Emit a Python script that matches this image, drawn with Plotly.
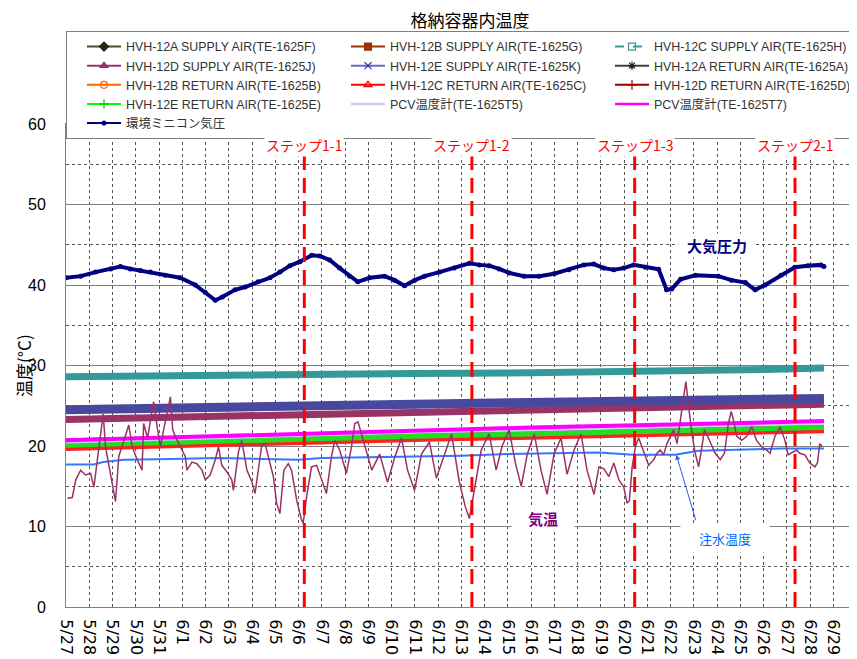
import pandas as pd
import plotly.graph_objects as go

START = pd.Timestamp("2012-05-27")
RANGE_END = pd.Timestamp("2012-06-30 00:30")

# ---- HVH / PCV temperatures (days from 5/27 00:00) ----
hvh_days = [0, 5, 10, 15, 20, 25, 30, 32.6]
te_1625f = [20.3, 20.7, 21.1, 21.4, 21.7, 22.0, 22.3, 22.4]   # HVH-12A SUPPLY
te_1625g = [19.9, 20.3, 20.7, 21.0, 21.3, 21.6, 21.9, 22.0]   # HVH-12B SUPPLY
te_1625h = [28.6, 28.8, 28.9, 29.0, 29.1, 29.2, 29.5, 29.7]   # HVH-12C SUPPLY
te_1625j = [23.3, 23.6, 23.9, 24.1, 24.4, 24.7, 25.0, 25.2]   # HVH-12D SUPPLY
te_1625k = [24.5, 24.8, 25.0, 25.2, 25.4, 25.6, 25.8, 25.9]   # HVH-12E SUPPLY
te_1625a = [20.7, 21.0, 21.3, 21.6, 21.9, 22.1, 22.4, 22.6]   # HVH-12A RETURN
te_1625b = [19.9, 20.3, 20.7, 21.0, 21.3, 21.6, 21.9, 22.0]   # HVH-12B RETURN
te_1625c = [19.7, 20.1, 20.5, 20.8, 21.1, 21.4, 21.7, 21.9]   # HVH-12C RETURN
te_1625d = [20.2, 20.6, 21.0, 21.3, 21.6, 21.9, 22.2, 22.3]   # HVH-12D RETURN
te_1625e = [20.1, 20.5, 20.9, 21.2, 21.5, 21.8, 22.1, 22.3]   # HVH-12E RETURN
te_1625t5 = [20.5, 20.9, 21.3, 21.7, 22.0, 22.3, 22.6, 22.8]  # PCV T5
te_1625t7 = [20.7, 21.1, 21.6, 22.0, 22.3, 22.6, 22.9, 23.1]  # PCV T7

# ---- 環境ミニコン気圧 ----
press_days = [0, 0.63, 1.27, 1.92, 2.34, 2.77, 3.2, 3.63, 4.27, 4.91, 5.56, 5.99, 6.42, 6.72,
              7.27, 7.7, 8.26, 8.77, 9.2, 9.63, 10.06, 10.57, 10.92, 11.34, 11.77, 12.2, 12.55,
              13.06, 13.7, 14.13, 14.56, 15.0, 15.42, 16.06, 16.7, 17.35, 17.78, 18.2, 18.63,
              19.06, 19.7, 20.35, 20.99, 21.63, 22.27, 22.7, 23.13, 23.56, 23.99, 24.42, 24.93,
              25.49, 25.83, 26.05, 26.43, 27.07, 28.06, 28.62, 29.22, 29.64, 30.07, 30.75, 31.35,
              31.91, 32.47, 32.6]
press_vals = [40.9, 41.1, 41.6, 42.0, 42.3, 42.0, 41.8, 41.6, 41.2, 40.9, 40.0, 39.1, 38.1, 38.5,
              39.4, 39.75, 40.4, 40.9, 41.6, 42.4, 42.9, 43.7, 43.6, 43.1, 42.1, 41.1, 40.4,
              40.9, 41.1, 40.6, 39.9, 40.6, 41.1, 41.6, 42.1, 42.7, 42.5, 42.4, 42.0,
              41.5, 41.1, 41.1, 41.4, 41.9, 42.5, 42.6, 42.1, 41.9, 42.1, 42.5, 42.2,
              41.95, 39.4, 39.5, 40.7, 41.2, 41.1, 40.6, 40.3, 39.4, 40.0, 41.2, 42.2,
              42.4, 42.5, 42.3]

# ---- 気温 ----
air_days = [0.06, 0.27, 0.42, 0.63, 0.84, 1.06, 1.2, 1.41, 1.6, 1.7, 1.92, 2.13, 2.27, 2.49, 2.7,
            2.85, 3.06, 3.27, 3.34, 3.51, 3.63, 3.77, 3.92, 4.06, 4.2, 4.35, 4.49, 4.59, 4.7,
            4.92, 5.13, 5.2, 5.42, 5.63, 5.85, 5.99, 6.2, 6.42, 6.56, 6.7, 6.92, 7.13, 7.2, 7.42,
            7.56, 7.78, 7.99, 8.13, 8.27, 8.42, 8.56, 8.7, 8.92, 9.06, 9.2, 9.37, 9.56, 9.7, 9.92,
            10.13, 10.2, 10.35, 10.56, 10.78, 10.99, 11.2, 11.42, 11.56, 11.77, 12.06, 12.28,
            12.42, 12.56, 12.85, 13.15, 13.49, 13.83, 14.13, 14.43, 14.69, 14.99, 15.29, 15.63,
            15.93, 16.27, 16.58, 16.92, 17.17, 17.35, 17.6, 17.86, 18.2, 18.5, 18.76, 19.06,
            19.32, 19.58, 19.84, 20.14, 20.43, 20.69, 20.99, 21.29, 21.55, 21.85, 22.15, 22.41,
            22.71, 22.92, 23.13, 23.35, 23.56, 23.78, 23.99, 24.13, 24.23, 24.35, 24.49, 24.63,
            24.77, 24.92, 25.06, 25.28, 25.42, 25.56, 25.7, 25.85, 25.99, 26.13, 26.28, 26.42,
            26.56, 26.66, 26.78, 26.92, 27.06, 27.21, 27.35, 27.46, 27.63, 27.78, 27.92, 28.14,
            28.32, 28.49, 28.61, 28.71, 28.85, 29.06, 29.28, 29.49, 29.7, 29.92, 30.13, 30.28,
            30.49, 30.71, 30.92, 31.06, 31.2, 31.42, 31.56, 31.78, 31.99, 32.21, 32.32, 32.42,
            32.52]
air_vals = [13.5, 13.6, 15.8, 17.0, 16.4, 16.6, 14.9, 19.9, 24.0, 19.9, 16.6, 13.1, 18.7, 20.7, 22.6,
            19.9, 18.3, 17.0, 22.8, 21.0, 23.0, 25.5, 22.4, 19.9, 22.0, 24.1, 26.1, 22.0, 21.2,
            19.9, 18.7, 17.0, 18.0, 17.8, 17.0, 15.8, 16.4, 18.3, 19.9, 17.6, 16.8, 15.8, 14.5, 19.3,
            20.7, 17.0, 15.6, 14.1, 17.0, 20.1, 20.3, 18.7, 16.2, 12.9, 11.6, 17.0, 17.8, 17.0, 13.3,
            10.8, 10.4, 13.7, 17.4, 17.6, 15.8, 14.1, 18.7, 20.7, 19.5, 16.6, 19.9,
            22.8, 23.0, 20.0, 17.0, 19.0, 15.5, 18.5, 21.0, 17.0, 14.5, 19.0, 20.5,
            16.0, 19.0, 21.5, 15.5, 12.5, 11.0, 15.0, 19.5, 21.5, 17.0, 20.0, 22.0,
            18.0, 15.0, 19.0, 21.5, 17.0, 14.0, 19.0, 21.0, 16.5, 19.5, 21.5, 17.0,
            14.0, 17.4, 17.2, 16.2, 17.9, 15.8, 14.9, 12.9, 13.2, 17.4, 19.9, 21.0,
            19.9, 18.7, 17.6, 18.3, 19.1, 19.5, 18.9, 20.3, 21.2, 22.0, 20.3, 23.2,
            26.5, 28.0, 24.9, 21.6, 19.1, 17.4, 19.9, 22.0, 21.0, 19.9, 19.1, 18.3,
            19.1, 22.8, 24.3, 23.2, 21.2, 20.7, 21.2, 22.4, 20.7, 19.9, 19.5, 19.1,
            21.2, 22.4, 20.7, 18.9, 19.1, 19.5, 19.1, 18.9, 17.9, 17.4, 17.9, 20.3,
            19.9]

# ---- 注水温度 ----
water_days = [0, 1.2, 1.6, 2.5, 4.5, 6.5, 8.5, 10.0, 11.0, 13.0, 15.0, 17.0, 19.0, 21.0, 22.9,
              24.4, 26.2, 27.2, 29.9, 30.8, 32.6]
water_vals = [17.7, 17.7, 18.0, 18.3, 18.4, 18.5, 18.4, 18.3, 18.5, 18.6, 18.7, 18.8, 19.0, 19.1,
              19.2, 18.9, 18.9, 19.4, 19.6, 19.7, 19.7]

# ---- steps ----
step_names = ["ステップ1-1", "ステップ1-2", "ステップ1-3", "ステップ2-1"]
step_times = ["2012-06-06 06:00", "2012-06-13 11:00", "2012-06-20 11:00", "2012-06-27 08:30"]

legend_names = [
    "HVH-12A SUPPLY AIR(TE-1625F)", "HVH-12B SUPPLY AIR(TE-1625G)", "HVH-12C SUPPLY AIR(TE-1625H)",
    "HVH-12D SUPPLY AIR(TE-1625J)", "HVH-12E SUPPLY AIR(TE-1625K)", "HVH-12A RETURN AIR(TE-1625A)",
    "HVH-12B RETURN AIR(TE-1625B)", "HVH-12C RETURN AIR(TE-1625C)", "HVH-12D RETURN AIR(TE-1625D)",
    "HVH-12E RETURN AIR(TE-1625E)", "PCV温度計(TE-1625T5)", "PCV温度計(TE-1625T7)", "環境ミニコン気圧",
]


def dt(days):
    return [START + pd.Timedelta(days=d) for d in days]


FONT = "Liberation Sans, Arial, Noto Sans CJK JP"
JFONT = "Noto Sans CJK JP, Liberation Sans"

# page has an 8px body margin: figure spans 849 x 651 of the 857 x 659 window
W, H = 849, 651
ML, MT, MB = 58, 116, 52
PLOT_H = H - MT - MB

fig = go.Figure()

# band-style data traces (no legend)
band_specs = [
    (te_1625f, "#4d4d26", 4),
    (te_1625g, "#993300", 4),
    (te_1625d, "#990000", 4),
    (te_1625b, "#ff6600", 4),
    (te_1625c, "#ff2020", 5),
    (te_1625a, "#333333", 4),
    (te_1625e, "#22dd22", 5),
    (te_1625t5, "#ccccff", 3),
    (te_1625t7, "#ff00ff", 4),
    (te_1625j, "#993366", 7),
    (te_1625k, "#48489e", 9),
    (te_1625h, "#339999", 7),
]
for vals, col, w in band_specs:
    fig.add_trace(go.Scatter(x=dt(hvh_days), y=vals, mode="lines",
                             line=dict(color=col, width=w), showlegend=False, hoverinfo="skip"))

fig.add_trace(go.Scatter(x=dt(press_days), y=press_vals, mode="lines+markers",
                         line=dict(color="#000080", width=4),
                         marker=dict(color="#000080", size=5), showlegend=False))
fig.add_trace(go.Scatter(x=dt(water_days), y=water_vals, mode="lines",
                         line=dict(color="#3377ff", width=2), showlegend=False))
fig.add_trace(go.Scatter(x=dt(air_days), y=air_vals, mode="lines",
                         line=dict(color="#993366", width=1.5), showlegend=False))

# legend entries
legend_styles = [
    ("#4d4d26", "solid", "diamond", "#262613"),
    ("#993300", "solid", "square", "#993300"),
    ("#339999", "dash", "square-open", "#339999"),
    ("#993366", "solid", "triangle-up", "#993366"),
    ("#6666cc", "solid", "x-thin-open", "#333399"),
    ("#404040", "solid", "asterisk-open", "#202020"),
    ("#ff6600", "solid", "circle-open", "#ff6600"),
    ("#ff0000", "solid", "triangle-up-open", "#ff0000"),
    ("#990000", "solid", "cross-thin-open", "#990000"),
    ("#00ff00", "solid", "cross-thin-open", "#00cc00"),
    ("#ccccff", "solid", None, None),
    ("#ff00ff", "solid", None, None),
    ("#000080", "solid", "circle", "#000080"),
]
for name, (lc, dash, sym, mc) in zip(legend_names, legend_styles):
    if sym:
        fig.add_trace(go.Scatter(x=[None], y=[None], name=name, mode="lines+markers",
                                 line=dict(color=lc, width=2, dash=dash),
                                 marker=dict(symbol=sym, color=mc, size=7 if sym != "circle" else 4,
                                             line=dict(color=mc, width=1.2))))
    else:
        fig.add_trace(go.Scatter(x=[None], y=[None], name=name, mode="lines",
                                 line=dict(color=lc, width=2.5)))

# step lines
for t in step_times:
    fig.add_shape(type="line", x0=t, x1=t, y0=0, y1=60, xref="x", yref="y",
                  line=dict(color="#ff0000", width=3, dash="15px,8px"), layer="above")
for name, t in zip(step_names, step_times):
    fig.add_annotation(x=t, y=57.4, text=name, showarrow=False, bgcolor="white",
                       font=dict(family=JFONT, size=14, color="#ff0000"))

fig.add_annotation(x=START + pd.Timedelta(days=28.0), y=44.85, text="<b>大気圧力</b>",
                   showarrow=False, bgcolor="white", width=74,
                   font=dict(family=JFONT, size=15, color="#000080"))
fig.add_annotation(x=START + pd.Timedelta(days=20.5), y=11.05, text="<b>気温</b>",
                   showarrow=False, bgcolor="white", width=60,
                   font=dict(family=JFONT, size=15, color="#800080"))
fig.add_annotation(x=START + pd.Timedelta(days=28.36), y=8.57, text="注水温度",
                   showarrow=False, bgcolor="white", width=86, height=26,
                   font=dict(family=JFONT, size=13, color="#0066ff"))
fig.add_annotation(x=START + pd.Timedelta(days=26.25), y=18.9, text="",
                   showarrow=True, arrowhead=2, arrowsize=1, arrowwidth=1, arrowcolor="#3355ff",
                   ax=20, ay=67)
# y-axis title
fig.add_annotation(xref="paper", yref="paper", x=-42.5 / (W - ML), y=0.5, text="温度(°C)",
                   textangle=-90, xanchor="center", yanchor="middle", showarrow=False,
                   font=dict(family=JFONT, size=17, color="#000000"))

fig.update_layout(
    width=W, height=H,
    margin=dict(l=ML, r=0, t=MT, b=MB, autoexpand=False),
    paper_bgcolor="white", plot_bgcolor="white",
    title=dict(text="格納容器内温度", x=462 / W, xref="container", y=1 - 13.5 / H, yref="container",
               xanchor="center", yanchor="middle",
               font=dict(family=JFONT, size=17, color="#000000")),
    showlegend=True,
    legend=dict(orientation="h", x=0, xanchor="left", y=1 + (MT - 23) / PLOT_H, yanchor="top",
                entrywidth=200, entrywidthmode="pixels", bgcolor="white",
                bordercolor="#808080", borderwidth=1, traceorder="normal",
                font=dict(family=FONT, size=12.4, color="#333333"), indentation=15, itemwidth=34),
    xaxis=dict(type="date", range=[START, RANGE_END], tick0=START, dtick=86400000,
               tickformat="%-m/%-d", tickangle=90, showgrid=True, gridcolor="#555555",
               griddash="dot", gridwidth=1, showline=True, linecolor="#808080", linewidth=1,
               mirror=True, ticks="", ticklabelstandoff=8, automargin=False,
               ticklabeloverflow="allow",
               tickfont=dict(family="DejaVu Sans, Liberation Sans", size=16, color="#000000"),
               zeroline=False),
    yaxis=dict(range=[0, 60], dtick=10, tick0=0, showgrid=True, gridcolor="#808080",
               gridwidth=1, showline=True, linecolor="#808080", linewidth=1, mirror=True,
               ticks="", ticklabelstandoff=16, zeroline=False, automargin=False,
               minor=dict(dtick=5, showgrid=True, gridcolor="#555555", griddash="dot"),
               tickfont=dict(family=FONT, size=16, color="#000000")),
)

fig.write_html("out.html")
